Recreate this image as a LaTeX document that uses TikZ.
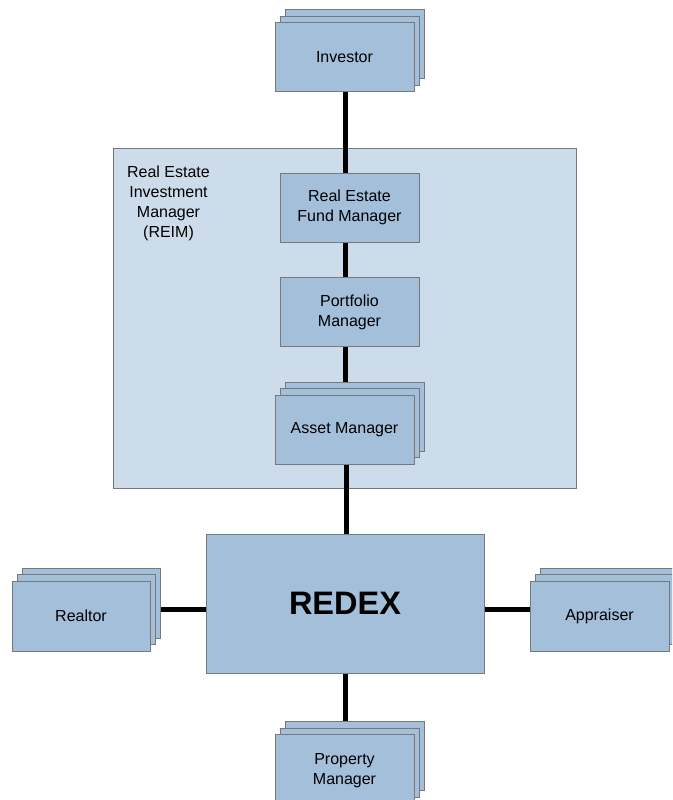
\documentclass[tikz,border=0pt]{standalone}
\usepackage{fontspec}
\setmainfont{Liberation Sans}
\usetikzlibrary{shadows}
\definecolor{boxfill}{RGB}{163,191,217}
\definecolor{reimfill}{RGB}{205,220,234}
\definecolor{boxline}{RGB}{120,120,120}
\pgfdeclarelayer{bgtwo}
\pgfdeclarelayer{background}
\pgfsetlayers{bgtwo,background,main}
\tikzset{
  box/.style={draw=boxline, line width=0.9pt, fill=boxfill, minimum width=139pt, minimum height=69pt,
    inner sep=0pt, align=center, font=\fontsize{16}{20}\selectfont},
  stack/.style={box, double copy shadow={shadow xshift=5pt, shadow yshift=6.5pt, fill=boxfill, draw=boxline, line width=0.9pt}},
  conn/.style={line width=5pt, black},
  reimbox/.style={draw=boxline, line width=0.9pt, fill=reimfill, minimum width=463pt, minimum height=340pt, inner sep=0pt},
}
\begin{document}
\begin{tikzpicture}[x=1pt,y=-1pt]
\useasboundingbox (0,0) rectangle (672,800);
\begin{pgfonlayer}{bgtwo}
\fill[white] (0,0) rectangle (672,800);
\end{pgfonlayer}
\begin{scope}
\clip (0,0) rectangle (672,800);
\node[stack] (inv) at (344.5,57) {Investor};
\node[box] (fund) at (349.5,207.5) {Real Estate\\Fund Manager};
\node[box] (port) at (349.5,312) {Portfolio\\Manager};
\node[stack] (asset) at (344.5,429.5) {Asset Manager};
\node[box, minimum width=278pt, minimum height=139pt, font=\fontsize{32.5}{36}\selectfont\bfseries] (redex) at (345,603.5) {REDEX};
\node[stack, minimum width=138pt, minimum height=70pt] (realtor) at (81,616) {Realtor};
\node[stack, minimum height=70pt] (appr) at (599.5,616) {Appraiser};
\node[stack] (prop) at (344.5,769) {};
\node[font=\fontsize{16}{20}\selectfont, align=center] (proptext) at (344.5,771) {Property\\Manager};
\node[font=\fontsize{16}{20}\selectfont, align=center, inner sep=0pt] (reimlabel) at (168.5,203) {Real Estate\\Investment\\Manager\\(REIM)};
\end{scope}
\begin{pgfonlayer}{bgtwo}
\node[reimbox] (reim) at (344.5,318) {};
\end{pgfonlayer}
\begin{pgfonlayer}{background}
\draw[conn] (redex.center |- inv.center) -- (redex.center |- fund.center);
\draw[conn] (redex.center |- fund.center) -- (redex.center |- port.center);
\draw[conn] (redex.center |- port.center) -- (redex.center |- asset.center);
\draw[conn] ([xshift=1pt]redex.center |- asset.center) -- ([xshift=1pt]redex.center);
\draw[conn] (redex.center) -- (redex.center |- prop.center);
\coordinate (lr) at ([yshift=-5.5pt]redex.center);
\draw[conn] (lr) -- (lr -| realtor.center);
\draw[conn] (lr) -- (lr -| appr.center);
\end{pgfonlayer}
\end{tikzpicture}
\end{document}
